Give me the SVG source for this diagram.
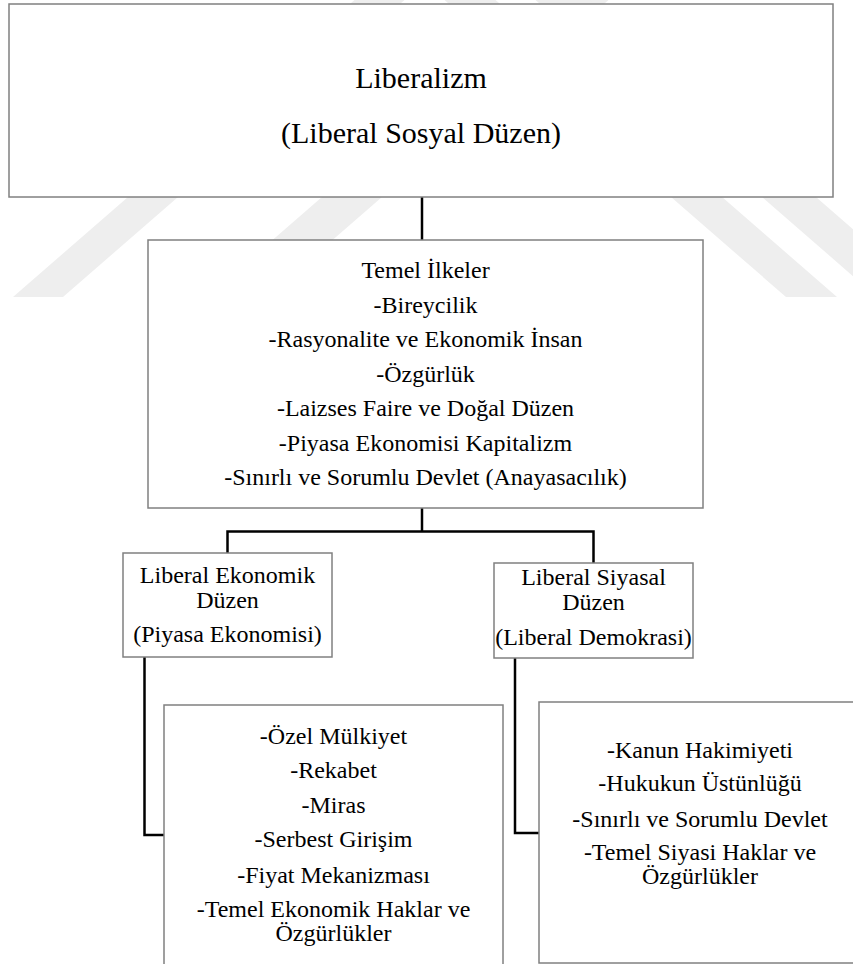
<svg xmlns="http://www.w3.org/2000/svg" width="853" height="964" viewBox="0 0 853 964">
  <style>
    .box { fill: #ffffff; stroke: #808080; stroke-width: 1.5; }
    .t { font-family: 'Liberation Serif', 'DejaVu Serif', serif; fill: #000000; text-anchor: middle; }
    .big { font-size: 30px; }
    .mid { font-size: 24px; }
    .wm { fill: #eeeeee; }
    .conn { fill: none; stroke: #000000; stroke-width: 2.5; }
  </style>
  <rect x="0" y="0" width="853" height="964" fill="#ffffff"/>
  <g id="watermark">
    <polygon class="wm" points="366,-10 416,-10 63,297 13,297"/>
    <polygon class="wm" points="560,-10 620,-10 267,297 207,297"/>
    <polygon class="wm" points="433,-10 484,-10 837,297 786,297"/>
    <polygon class="wm" points="524,-10 578,-10 931,297 877,297"/>
  </g>
  <g id="connectors">
    <path class="conn" d="M422,197 V240"/>
    <path class="conn" d="M422,508 V531.5"/>
    <path class="conn" d="M227.5,553 V531.5 H593.5 V563"/>
    <path class="conn" d="M144.5,657 V835 H164"/>
    <path class="conn" d="M515,658 V833 H539"/>
  </g>
  <g id="liberalizm" font-family="Liberation Serif, serif">
    <rect class="box" x="9" y="4" width="824" height="193"/>
    <text class="t big" x="421" y="88">Liberalizm</text>
    <text class="t big" x="421" y="143">(Liberal Sosyal Düzen)</text>
  </g>
  <g id="temel-ilkeler" font-family="Liberation Serif, serif">
    <rect class="box" x="148" y="240" width="555" height="268"/>
    <text class="t mid" x="425.5" y="278">Temel İlkeler</text>
    <text class="t mid" x="425.5" y="312.5">-Bireycilik</text>
    <text class="t mid" x="425.5" y="347">-Rasyonalite ve Ekonomik İnsan</text>
    <text class="t mid" x="425.5" y="381.5">-Özgürlük</text>
    <text class="t mid" x="425.5" y="416">-Laizses Faire ve Doğal Düzen</text>
    <text class="t mid" x="425.5" y="450.5">-Piyasa Ekonomisi Kapitalizm</text>
    <text class="t mid" x="425.5" y="485">-Sınırlı ve Sorumlu Devlet (Anayasacılık)</text>
  </g>
  <g id="liberal-ekonomik" font-family="Liberation Serif, serif">
    <rect class="box" x="123" y="553" width="209" height="104"/>
    <text class="t mid" x="227.5" y="583">Liberal Ekonomik</text>
    <text class="t mid" x="227.5" y="608">Düzen</text>
    <text class="t mid" x="227.5" y="642">(Piyasa Ekonomisi)</text>
  </g>
  <g id="liberal-siyasal" font-family="Liberation Serif, serif">
    <rect class="box" x="494" y="563" width="199" height="95"/>
    <text class="t mid" x="593.5" y="585">Liberal Siyasal</text>
    <text class="t mid" x="593.5" y="610">Düzen</text>
    <text class="t mid" x="593.5" y="645">(Liberal Demokrasi)</text>
  </g>
  <g id="ekonomik-unsurlar" font-family="Liberation Serif, serif">
    <rect class="box" x="164" y="705" width="339" height="275"/>
    <text class="t mid" x="333.5" y="744">-Özel Mülkiyet</text>
    <text class="t mid" x="333.5" y="778">-Rekabet</text>
    <text class="t mid" x="333.5" y="813">-Miras</text>
    <text class="t mid" x="333.5" y="847">-Serbest Girişim</text>
    <text class="t mid" x="333.5" y="882.5">-Fiyat Mekanizması</text>
    <text class="t mid" x="333.5" y="916.5">-Temel Ekonomik Haklar ve</text>
    <text class="t mid" x="333.5" y="940.5">Özgürlükler</text>
  </g>
  <g id="siyasal-unsurlar" font-family="Liberation Serif, serif">
    <rect class="box" x="539" y="702" width="330" height="261"/>
    <text class="t mid" x="700" y="758">-Kanun Hakimiyeti</text>
    <text class="t mid" x="700" y="791">-Hukukun Üstünlüğü</text>
    <text class="t mid" x="700" y="826.5">-Sınırlı ve Sorumlu Devlet</text>
    <text class="t mid" x="700" y="860">-Temel Siyasi Haklar ve</text>
    <text class="t mid" x="700" y="884">Özgürlükler</text>
  </g>
</svg>
